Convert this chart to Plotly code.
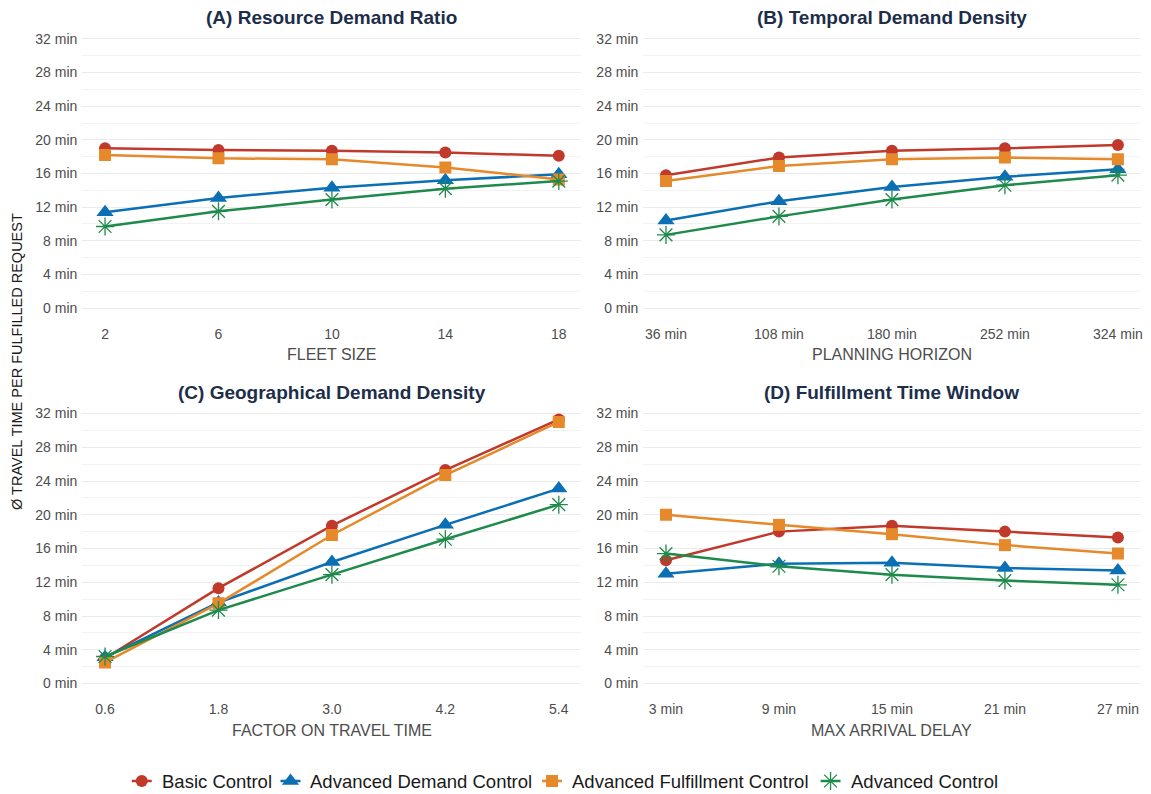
import plotly.graph_objects as go

W, H = 1151, 794

series_names = ["Basic Control", "Advanced Demand Control", "Advanced Fulfillment Control", "Advanced Control"]
colors = ["#c0392b", "#0b6fb5", "#e6892a", "#1e8a4c"]
symbols = ["circle", "triangle-up", "square", "asterisk-open"]
sizes = [12, 15, 12, 15]

# Panel A: fleet size
a_x = [2, 6, 10, 14, 18]
a_basic = [19.0, 18.8, 18.7, 18.5, 18.1]
a_demand = [11.4, 13.1, 14.3, 15.2, 15.9]
a_fulfill = [18.2, 17.8, 17.7, 16.7, 15.3]
a_adv = [9.7, 11.5, 12.9, 14.2, 15.1]

# Panel B: planning horizon
b_x = [36, 108, 180, 252, 324]
b_labels = ["36 min", "108 min", "180 min", "252 min", "324 min"]
b_basic = [15.8, 17.9, 18.7, 19.0, 19.4]
b_demand = [10.4, 12.7, 14.4, 15.6, 16.5]
b_fulfill = [15.1, 16.9, 17.7, 17.9, 17.7]
b_adv = [8.7, 10.9, 12.9, 14.6, 15.8]

# Panel C: factor on travel time
c_x = [0.6, 1.8, 3.0, 4.2, 5.4]
c_labels = ["0.6", "1.8", "3.0", "4.2", "5.4"]
c_basic = [3.0, 11.3, 18.7, 25.3, 31.3]
c_demand = [3.1, 9.6, 14.4, 18.8, 23.1]
c_fulfill = [2.5, 9.5, 17.6, 24.7, 31.0]
c_adv = [3.2, 8.7, 12.9, 17.1, 21.2]

# Panel D: max arrival delay
d_x = [3, 9, 15, 21, 27]
d_labels = ["3 min", "9 min", "15 min", "21 min", "27 min"]
d_basic = [14.6, 18.0, 18.7, 18.0, 17.3]
d_demand = [13.0, 14.2, 14.3, 13.7, 13.4]
d_fulfill = [20.0, 18.8, 17.7, 16.4, 15.4]
d_adv = [15.4, 13.9, 12.9, 12.2, 11.7]

y_ticks = [0, 4, 8, 12, 16, 20, 24, 28, 32]
y_ticktext = [f"{v} min" for v in y_ticks]

panels = [
    dict(x=a_x, ticktext=[str(v) for v in a_x], ys=[a_basic, a_demand, a_fulfill, a_adv],
         title="(A) Resource Demand Ratio", xtitle="FLEET SIZE"),
    dict(x=b_x, ticktext=b_labels, ys=[b_basic, b_demand, b_fulfill, b_adv],
         title="(B) Temporal Demand Density", xtitle="PLANNING HORIZON"),
    dict(x=c_x, ticktext=c_labels, ys=[c_basic, c_demand, c_fulfill, c_adv],
         title="(C) Geographical Demand Density", xtitle="FACTOR ON TRAVEL TIME"),
    dict(x=d_x, ticktext=d_labels, ys=[d_basic, d_demand, d_fulfill, d_adv],
         title="(D) Fulfillment Time Window", xtitle="MAX ARRIVAL DELAY"),
]

# pixel layout
x_doms_px = [(82.5, 582.5), (644.5, 1142.5)]
y_doms_px = [(25.5, 321.5), (400, 697)]

fig = go.Figure()
layout = dict()
annotations = []
for i, p in enumerate(panels):
    row, col = divmod(i, 2)
    xl, xr = x_doms_px[col]
    yt, yb = y_doms_px[row]
    xd = [xl / W, xr / W]
    yd = [1 - yb / H, 1 - yt / H]
    axn = "" if i == 0 else str(i + 1)
    xs = p["x"]
    span = xs[-1] - xs[0]
    layout[f"xaxis{axn}"] = dict(
        domain=xd, anchor=f"y{axn}", range=[xs[0] - 0.05 * span, xs[-1] + 0.05 * span],
        tickmode="array", tickvals=xs, ticktext=p["ticktext"], showgrid=False, zeroline=False,
        showline=False, ticks="", tickfont=dict(size=14, color="#4d4d4d"), ticklabelstandoff=2,
    )
    layout[f"yaxis{axn}"] = dict(
        domain=yd, anchor=f"x{axn}", range=[-1.6, 33.6], tickmode="array", tickvals=y_ticks,
        ticktext=y_ticktext, showgrid=True, gridcolor="#ebebeb", gridwidth=1, zeroline=False,
        showline=False, ticks="", tickfont=dict(size=14, color="#4d4d4d"), ticklabelstandoff=4,
        minor=dict(tickmode="array", tickvals=[2, 6, 10, 14, 18, 22, 26, 30], showgrid=True,
                   gridcolor="#f2f2f2", gridwidth=1),
    )
    for k in range(4):
        fig.add_trace(go.Scatter(
            x=xs, y=p["ys"][k], mode="lines+markers", name=series_names[k],
            showlegend=False,
            line=dict(color=colors[k], width=2.5),
            marker=dict(symbol=symbols[k], size=sizes[k], color=colors[k],
                        line=dict(color=colors[k], width=1.3 if k == 3 else 0)),
            xaxis=f"x{axn}", yaxis=f"y{axn}",
        ))
    annotations.append(dict(
        text=f"<b>{p['title']}</b>", x=(xl + xr) / 2 / W, y=1 - (yt - 8) / H,
        xref="paper", yref="paper", xanchor="center", yanchor="middle", showarrow=False,
        font=dict(size=19, color="#1c2e4a"),
    ))
    annotations.append(dict(
        text=p["xtitle"], x=(xl + xr) / 2 / W, y=1 - (yb + 33) / H,
        xref="paper", yref="paper", xanchor="center", yanchor="middle", showarrow=False,
        font=dict(size=16, color="#4d4d4d"),
    ))

# manual legend on a full-figure pixel overlay axis
legend_marker_x = [142, 291, 553, 832]
legend_y = 781
layout["xaxis5"] = dict(domain=[0, 1], range=[0, W], visible=False, fixedrange=True, anchor="y5")
layout["yaxis5"] = dict(domain=[0, 1], range=[H, 0], visible=False, fixedrange=True, anchor="x5")
for k in range(4):
    cx = legend_marker_x[k]
    fig.add_trace(go.Scatter(
        x=[cx - 10, cx + 10], y=[legend_y, legend_y], mode="lines", showlegend=False,
        line=dict(color=colors[k], width=2.5), hoverinfo="skip", xaxis="x5", yaxis="y5",
    ))
    fig.add_trace(go.Scatter(
        x=[cx], y=[legend_y], mode="markers", showlegend=False, hoverinfo="skip",
        marker=dict(symbol=symbols[k], size=sizes[k], color=colors[k],
                    line=dict(color=colors[k], width=1.3 if k == 3 else 0)),
        xaxis="x5", yaxis="y5",
    ))
    annotations.append(dict(
        text=series_names[k], x=(cx + 18) / W, y=1 - legend_y / H, xref="paper", yref="paper",
        xanchor="left", yanchor="middle", showarrow=False,
        font=dict(size=18.5, color="#1a1a1a"),
    ))

annotations.append(dict(
    text="Ø TRAVEL TIME PER FULFILLED REQUEST", x=17 / W, y=1 - 361 / H, xref="paper", yref="paper",
    xanchor="center", yanchor="middle", textangle=-90, showarrow=False,
    font=dict(size=14.5, color="#1a1a1a"),
))

fig.update_layout(
    **layout,
    width=W, height=H, margin=dict(l=0, r=0, t=0, b=0),
    paper_bgcolor="white", plot_bgcolor="rgba(0,0,0,0)",
    font=dict(family="Liberation Sans, Arial, sans-serif"),
    annotations=annotations,
    showlegend=False,
)

fig.write_html("out.html")
